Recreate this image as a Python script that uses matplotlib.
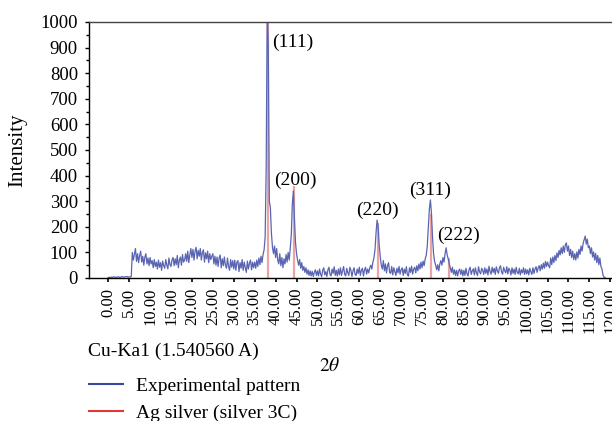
import numpy as np
import matplotlib
matplotlib.use("Agg")
from matplotlib import pyplot as plt

plt.rcParams['font.family'] = ['Liberation Serif', 'DejaVu Serif']
plt.rcParams['mathtext.fontset'] = 'stix'

# Experimental pattern, every 0.25 deg (2theta from 0)
seg_00_05 = [2, 3, 1, 4, 2, 5, 3, 2, 4, 3, 5, 2, 3, 6, 4, 3, 5, 4, 6, 3]
seg_05_10 = [5, 4, 6, 100, 70, 92, 115, 65, 95, 60, 88, 105, 62, 85, 50, 82, 95, 55, 78, 48]
seg_10_15 = [80, 55, 68, 40, 72, 45, 62, 35, 70, 42, 60, 30, 66, 48, 38, 72, 50, 36, 78, 52]
seg_15_20 = [45, 72, 80, 48, 75, 52, 88, 40, 70, 82, 50, 92, 62, 70, 95, 65, 105, 60, 90, 115]
seg_20_25 = [80, 112, 70, 105, 120, 75, 108, 85, 115, 70, 100, 110, 62, 98, 75, 105, 60, 95, 72, 85]
seg_25_30 = [95, 55, 85, 50, 82, 45, 78, 90, 40, 75, 48, 82, 50, 38, 78, 45, 30, 72, 42, 68]
seg_30_35 = [35, 70, 30, 62, 68, 25, 60, 38, 72, 30, 62, 40, 22, 66, 35, 58, 70, 32, 62, 40]
seg_35_40 = [62, 38, 70, 45, 78, 52, 85, 60, 92, 110, 160, 430, 1080, 900, 300, 275, 175, 120, 95, 125]
seg_40_45 = [80, 115, 70, 55, 95, 48, 80, 40, 75, 55, 92, 62, 100, 70, 115, 170, 290, 340, 230, 140]
seg_45_50 = [95, 70, 50, 72, 38, 60, 30, 45, 22, 40, 15, 32, 10, 28, 8, 26, 6, 22, 32, 10]
seg_50_55 = [28, 8, 35, 15, 5, 30, 40, 12, 25, 6, 32, 42, 14, 8, 35, 18, 44, 10, 30, 8]
seg_55_60 = [35, 12, 40, 10, 28, 45, 15, 8, 38, 20, 10, 42, 30, 6, 28, 40, 14, 10, 35, 18]
seg_60_65 = [42, 10, 30, 38, 8, 32, 42, 15, 35, 20, 40, 50, 35, 62, 78, 110, 175, 226, 200, 130]
seg_65_70 = [85, 50, 35, 68, 28, 55, 20, 48, 60, 22, 18, 45, 12, 40, 25, 10, 38, 20, 45, 15]
seg_70_75 = [32, 40, 10, 35, 18, 44, 12, 8, 40, 22, 46, 15, 35, 42, 20, 48, 28, 55, 35, 62]
seg_75_80 = [40, 66, 48, 75, 88, 125, 195, 270, 305, 250, 160, 95, 65, 50, 32, 52, 28, 55, 68, 50]
seg_80_85 = [80, 62, 95, 118, 90, 75, 55, 40, 22, 42, 15, 32, 10, 30, 8, 28, 35, 14, 32, 8]
seg_85_90 = [30, 10, 38, 16, 8, 34, 42, 14, 28, 36, 12, 40, 20, 10, 44, 24, 16, 38, 30, 14]
seg_90_95 = [40, 18, 35, 12, 46, 25, 15, 42, 22, 38, 14, 44, 28, 18, 40, 48, 24, 15, 42, 28]
seg_95_100 = [20, 44, 16, 38, 30, 12, 40, 18, 35, 14, 42, 22, 16, 38, 12, 32, 20, 40, 14, 35]
seg_100_105 = [16, 32, 12, 38, 24, 14, 40, 18, 35, 44, 22, 40, 48, 28, 52, 35, 58, 38, 65, 45]
seg_105_110 = [62, 48, 40, 78, 52, 82, 60, 88, 68, 98, 80, 108, 90, 118, 95, 125, 100, 130, 137, 105]
seg_110_115 = [125, 88, 112, 80, 105, 72, 95, 70, 102, 78, 112, 92, 125, 105, 135, 150, 164, 132, 152, 118]
seg_115_119 = [125, 95, 118, 82, 102, 70, 96, 60, 88, 52, 78, 45, 35, 12, 3, 2]

intensity = np.array(seg_00_05 + seg_05_10 + seg_10_15 + seg_15_20 + seg_20_25
                     + seg_25_30 + seg_30_35 + seg_35_40 + seg_40_45 + seg_45_50
                     + seg_50_55 + seg_55_60 + seg_60_65 + seg_65_70 + seg_70_75
                     + seg_75_80 + seg_80_85 + seg_85_90 + seg_90_95 + seg_95_100
                     + seg_100_105 + seg_105_110 + seg_110_115 + seg_115_119)
two_theta = np.arange(len(intensity)) * 0.25

# Ag reference lines (silver 3C)
ag_pos = [38.1, 44.3, 64.4, 77.2, 81.5]
ag_int = [1000, 360, 215, 250, 80]
ag_hkl = ['(111)', '(200)', '(220)', '(311)', '(222)']
hkl_x = [39.2, 39.7, 59.2, 71.9, 78.6]
hkl_y = [922, 383, 266, 344, 168]

xticks = np.arange(0, 121, 5)

fig = plt.figure(figsize=(6.12, 4.21), dpi=100)
ax = fig.add_axes([89/612, 1 - 278/421, 1 - 89/612, 256/421])

red = ax.vlines(ag_pos, 0, ag_int, colors='#eaa4a4', linewidth=1.6, zorder=1)
blue, = ax.plot(two_theta, intensity, color='#5a65b2', linewidth=0.9, zorder=2)

for lab, x, y in zip(ag_hkl, hkl_x, hkl_y):
    ax.text(x, y, lab, ha='left', va='center', fontsize=14)

ax.set_xlim(-4.6, 120.4)
ax.set_ylim(0, 1000)
ax.set_xticks(xticks)
ax.set_xticklabels(['%.2f' % t for t in xticks], rotation=90, fontsize=12)
ax.set_yticks(np.arange(0, 1001, 100))
ax.set_yticks(np.arange(50, 1000, 100), minor=True)
ax.tick_params(axis='y', labelsize=13.5, length=3, width=1, pad=5)
ax.tick_params(axis='y', which='minor', length=2, width=1)
ax.tick_params(axis='x', length=3, width=1.2, pad=4)
ax.spines['right'].set_visible(False)
for s in ['left', 'bottom', 'top']:
    ax.spines[s].set_linewidth(1.0)
ax.spines['top'].set_color('#444444')

ax.set_ylabel('Intensity', fontsize=15)
ax.yaxis.set_label_coords(-0.118, 0.5)
fig.text(330/612, 1 - 366/421, r'$2\theta$', ha='center', va='center', fontsize=14)
fig.text(88/612, 1 - 351/421, 'Cu-Ka1 (1.540560 A)', ha='left', va='center', fontsize=14)

h_red = plt.Line2D([], [], color='#e03838', linewidth=1.5)
h_blue = plt.Line2D([], [], color='#3a48a0', linewidth=1.5)
fig.legend([h_blue, h_red], ['Experimental pattern', 'Ag silver (silver 3C)'],
           loc='upper left', bbox_to_anchor=(89/612, 1 - 377/421), frameon=False,
           fontsize=14, handlelength=1.75, handletextpad=0.67, labelspacing=0.5,
           borderpad=0, borderaxespad=0)

fig.savefig('out.png', dpi=100)
